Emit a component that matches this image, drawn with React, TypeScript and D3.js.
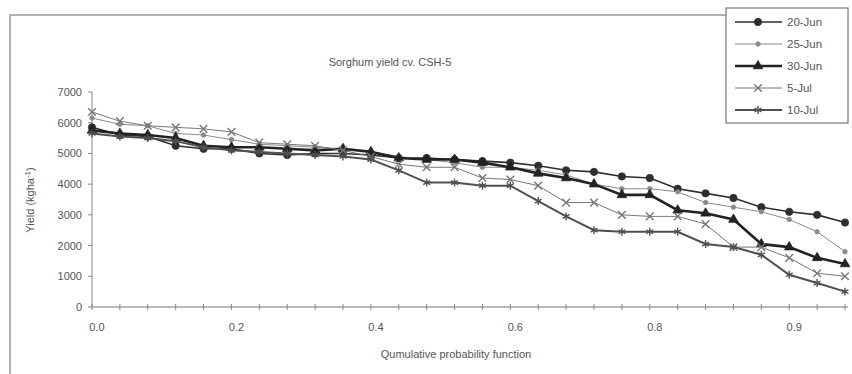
import React from 'react';
import * as d3 from 'd3';

// category index along the x axis (28 probability classes)
const categories = d3.range(28);
const xTickIndex = [0, 5, 10, 15, 20, 25];
const xTickLabels = ['0.0', '0.2', '0.4', '0.6', '0.8', '0.9'];
const yTicks = [0, 1000, 2000, 3000, 4000, 5000, 6000, 7000];

const jun20 = [5850, 5600, 5550, 5250, 5150, 5150, 5000, 4950, 5000, 5000, 4950, 4850, 4850, 4800,
  4750, 4700, 4600, 4450, 4400, 4250, 4200, 3850, 3700, 3550, 3250, 3100, 3000, 2750];
const jun25 = [6150, 5950, 5900, 5650, 5600, 5450, 5300, 5250, 5200, 5150, 5050, 4900, 4800, 4700,
  4550, 4550, 4450, 4300, 4000, 3850, 3850, 3750, 3400, 3250, 3100, 2850, 2450, 1800];
const jun30 = [5750, 5650, 5600, 5500, 5250, 5200, 5200, 5150, 5100, 5150, 5050, 4850, 4800, 4800,
  4700, 4550, 4350, 4200, 4000, 3650, 3650, 3150, 3050, 2850, 2050, 1950, 1600, 1400];
const jul5 = [6350, 6050, 5900, 5850, 5800, 5700, 5350, 5300, 5250, 5100, 4900, 4650, 4550, 4550,
  4200, 4150, 3950, 3400, 3400, 3000, 2950, 2950, 2700, 1950, 1950, 1600, 1100, 1000];
const jul10 = [5650, 5550, 5500, 5400, 5200, 5100, 5050, 5000, 4950, 4900, 4800, 4450, 4050, 4050,
  3950, 3950, 3450, 2950, 2500, 2450, 2450, 2450, 2050, 1950, 1700, 1050, 780, 500];

const series = [
  { name: '20-Jun', values: jun20, color: '#2e2e2e', width: 1.6, symbol: d3.symbolCircle, size: 42, filled: true },
  { name: '25-Jun', values: jun25, color: '#8a8a8a', width: 1, symbol: d3.symbolCircle, size: 16, filled: true },
  { name: '30-Jun', values: jun30, color: '#222', width: 2.6, symbol: d3.symbolTriangle, size: 40, filled: true },
  { name: '5-Jul', values: jul5, color: '#777', width: 1, symbol: d3.symbolTimes, size: 40, filled: false },
  { name: '10-Jul', values: jul10, color: '#505050', width: 2, symbol: d3.symbolAsterisk, size: 44, filled: false },
];

const W = 852;
const H = 374;

export default function App() {
  const x = d3.scalePoint<number>().domain(categories).range([92, 845]);
  const y = d3.scaleLinear().domain([0, 7000]).range([307, 92]);
  const line = d3.line<number>().x((_, i) => x(i)!).y(d => y(d));
  const font = 'Liberation Sans, Arial, sans-serif';
  const txt = '#555';

  return (
    <div style={{ position: 'fixed', left: 0, top: 0 }}>
      <svg width={W} height={H} style={{ display: 'block', background: '#fff' }} fontFamily={font}>
        {/* outer chart frame */}
        <path d={`M10,${H} V15 H726`} fill="none" stroke="#999" strokeWidth={1.5} />

        <text x={390} y={66} textAnchor="middle" fontSize={11} fill={txt}>Sorghum yield cv. CSH-5</text>

        {/* y axis */}
        <line x1={92} x2={92} y1={y(7000)} y2={y(0)} stroke="#888" />
        {yTicks.map(t => (
          <g key={t}>
            <line x1={88} x2={92} y1={y(t)} y2={y(t)} stroke="#888" />
            <text x={82} y={y(t) + 4} textAnchor="end" fontSize={11} fill={txt}>{t}</text>
          </g>
        ))}
        <text transform="translate(34,200) rotate(-90)" textAnchor="middle" fontSize={11} fill={txt}>
          Yield (kgha<tspan dy={-4} fontSize={8}>-1</tspan><tspan dy={4}>)</tspan>
        </text>

        {/* x axis */}
        <line x1={92} x2={848} y1={y(0)} y2={y(0)} stroke="#777" strokeWidth={1.2} />
        {categories.map(c => (
          <line key={c} x1={x(c)} x2={x(c)} y1={y(0) - 3} y2={y(0) + 3} stroke="#888" />
        ))}
        {xTickIndex.map((c, i) => (
          <text key={c} x={x(c)! + 5} y={331} textAnchor="middle" fontSize={11} fill={txt}>{xTickLabels[i]}</text>
        ))}
        <text x={456} y={358} textAnchor="middle" fontSize={11} fill={txt}>Qumulative probability function</text>

        {/* series */}
        {series.map(s => (
          <g key={s.name}>
            <path d={line(s.values)!} fill="none" stroke={s.color} strokeWidth={s.width} />
            {s.values.map((v, i) => (
              <path key={i} transform={`translate(${x(i)},${y(v)})`}
                d={d3.symbol().type(s.symbol).size(s.size)()!}
                fill={s.filled ? s.color : 'none'} stroke={s.color} strokeWidth={s.filled ? 0.8 : 1.4} />
            ))}
          </g>
        ))}

        {/* legend */}
        <rect x={726} y={8} width={122} height={115} fill="#fff" stroke="#777" strokeWidth={1.2} />
        {series.map((s, i) => {
          const ly = 22 + i * 22;
          return (
            <g key={s.name}>
              <line x1={735} x2={782} y1={ly} y2={ly} stroke={s.color} strokeWidth={s.width} />
              <path transform={`translate(758,${ly})`} d={d3.symbol().type(s.symbol).size(s.size)()!}
                fill={s.filled ? s.color : 'none'} stroke={s.color} strokeWidth={s.filled ? 0.8 : 1.4} />
              <text x={787} y={ly + 4} fontSize={11.5} fill={txt}>{s.name}</text>
            </g>
          );
        })}
      </svg>
    </div>
  );
}
